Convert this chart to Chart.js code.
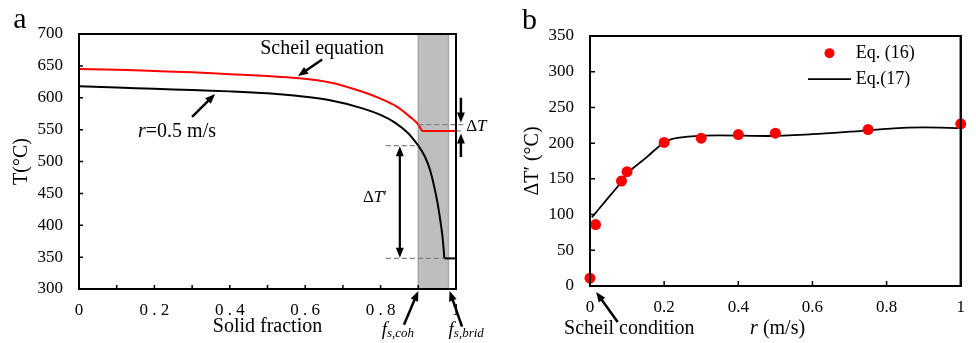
<!DOCTYPE html>
<html lang="en">
<head>
<meta charset="UTF-8">
<title>Solid fraction and undercooling</title>
<script src="https://cdn.jsdelivr.net/npm/chart.js"></script>
<style>
  html, body { margin: 0; padding: 0; background: #fff; }
  #wrap { position: relative; width: 976px; height: 343px; }
  #chartA { position: absolute; left: 0; top: 0; }
  #chartB { position: absolute; left: 490px; top: 0; }
</style>
</head>
<body>
<div id="wrap">
  <canvas id="chartA" width="490" height="343"></canvas>
  <canvas id="chartB" width="486" height="343"></canvas>
</div>
<script>
// panel a : T vs solid fraction
const scheilFs = [0, 0.1, 0.2, 0.3, 0.4, 0.5, 0.577, 0.666, 0.754, 0.798, 0.843, 0.878, 0.9, 0.91];
const scheilT  = [645, 644, 642, 640, 637, 634, 631, 624, 609, 599, 586, 570, 558, 548];
const scheilFlatFs = [0.91, 1.0];
const scheilFlatT  = [548, 548];
const rateFs = [0, 0.1, 0.2, 0.3, 0.4, 0.5, 0.577, 0.666, 0.754, 0.8, 0.838, 0.874, 0.892, 0.9, 0.918, 0.931, 0.942, 0.951, 0.958, 0.964, 0.967, 0.969];
const rateT  = [618, 616, 614, 612, 610, 607, 603, 596, 583, 573, 561, 544, 531, 525, 507, 487, 461, 435, 409, 383, 364, 348];
const rateFlatFs = [0.969, 1.0];
const rateFlatT  = [348, 348];
const fsCoh = 0.9, fsBrid = 0.98;
const xTicksA = [0, 0.1, 0.2, 0.3, 0.4, 0.5, 0.6, 0.7, 0.8, 0.9, 1];
const xTickLabelsA = ['0', '', '0 . 2', '', '0 . 4', '', '0 . 6', '', '0 . 8', '', '1'];
const yTicksA = [300, 350, 400, 450, 500, 550, 600, 650, 700];

// panel b : dT' vs r
const eq16R  = [0, 0.015, 0.085, 0.1, 0.2, 0.3, 0.4, 0.5, 0.75, 1.0];
const eq16dT = [11, 86, 147, 160, 201, 207, 212, 214, 219, 227];
const eq17R  = [0.005, 0.05, 0.085, 0.1, 0.133, 0.15, 0.2, 0.22, 0.264, 0.35, 0.48, 0.6, 0.7, 0.8, 0.9, 1.0];
const eq17dT = [96, 124, 146, 157, 172, 179, 201, 205.5, 209, 211, 210, 212.5, 216, 220, 222, 221];
const xTicksB = [0, 0.2, 0.4, 0.6, 0.8, 1];
const xTickLabelsB = ['0', '0.2', '0.4', '0.6', '0.8', '1'];
const yTicksB = [0, 50, 100, 150, 200, 250, 300, 350];

const SERIF = "'Liberation Serif', 'Times New Roman', serif";
Chart.defaults.font.family = SERIF;
Chart.defaults.color = '#000';

const toXY = (xs, ys) => xs.map((x, i) => ({ x: x, y: ys[i] }));
const P = (chart, xv, yv) => [chart.scales.x.getPixelForValue(xv), chart.scales.y.getPixelForValue(yv)];

function head(ctx, a, b, len, half) {
  const ang = Math.atan2(b[1] - a[1], b[0] - a[0]);
  const c = Math.cos(ang), s = Math.sin(ang);
  ctx.beginPath();
  ctx.moveTo(b[0], b[1]);
  ctx.lineTo(b[0] - len * c + half * s, b[1] - len * s - half * c);
  ctx.lineTo(b[0] - len * c - half * s, b[1] - len * s + half * c);
  ctx.closePath();
  ctx.fill();
}

// a, b in pixels; arrow head at b (and at a if both)
function arrow(ctx, a, b, both, lw) {
  const len = 10, half = 4;
  const ang = Math.atan2(b[1] - a[1], b[0] - a[0]);
  const c = Math.cos(ang), s = Math.sin(ang);
  ctx.save();
  ctx.strokeStyle = '#000';
  ctx.fillStyle = '#000';
  ctx.lineWidth = lw || 2.5;
  ctx.beginPath();
  const sa = both ? [a[0] + (len - 2) * c, a[1] + (len - 2) * s] : a;
  ctx.moveTo(sa[0], sa[1]);
  ctx.lineTo(b[0] - (len - 2) * c, b[1] - (len - 2) * s);
  ctx.stroke();
  head(ctx, a, b, len, half);
  if (both) head(ctx, b, a, len, half);
  ctx.restore();
}

function dashed(chart, a, b) {
  const ctx = chart.ctx;
  const p = P(chart, a[0], a[1]), q = P(chart, b[0], b[1]);
  ctx.save();
  ctx.strokeStyle = '#808080';
  ctx.lineWidth = 1.2;
  ctx.setLineDash([5, 3]);
  ctx.beginPath();
  ctx.moveTo(p[0], p[1]);
  ctx.lineTo(q[0], q[1]);
  ctx.stroke();
  ctx.restore();
}

// parts: [text, font, dy]
function rich(ctx, parts, x, y, align) {
  ctx.save();
  ctx.textBaseline = 'middle';
  ctx.fillStyle = '#000';
  let w = 0;
  parts.forEach(p => { ctx.font = p[1]; w += ctx.measureText(p[0]).width; });
  let cx = align === 'center' ? x - w / 2 : (align === 'right' ? x - w : x);
  parts.forEach(p => {
    ctx.font = p[1];
    ctx.textAlign = 'left';
    ctx.fillText(p[0], cx, y + (p[2] || 0));
    cx += ctx.measureText(p[0]).width;
  });
  ctx.restore();
}

function frameAndTicks(chart, xt, yt, tl) {
  const { ctx, chartArea: ca } = chart;
  ctx.save();
  ctx.strokeStyle = '#000';
  ctx.lineWidth = 1.5;
  ctx.beginPath();
  xt.forEach(v => {
    const x = chart.scales.x.getPixelForValue(v);
    ctx.moveTo(x, ca.bottom);
    ctx.lineTo(x, ca.bottom - tl);
  });
  yt.forEach(v => {
    const y = chart.scales.y.getPixelForValue(v);
    ctx.moveTo(ca.left, y);
    ctx.lineTo(ca.left + tl, y);
  });
  ctx.stroke();
  ctx.lineWidth = 2;
  ctx.strokeRect(ca.left, ca.top, ca.right - ca.left, ca.bottom - ca.top);
  ctx.restore();
}

const panelA = {
  id: 'panelA',
  beforeDatasetsDraw(chart) {
    const { ctx, chartArea: ca } = chart;
    const x0 = chart.scales.x.getPixelForValue(fsCoh);
    const x1 = chart.scales.x.getPixelForValue(fsBrid);
    ctx.save();
    ctx.fillStyle = '#bebebe';
    ctx.fillRect(x0, ca.top, x1 - x0, ca.bottom - ca.top);
    ctx.strokeStyle = '#a8a8a8';
    ctx.lineWidth = 1.5;
    [x0, x1].forEach(x => {
      ctx.beginPath(); ctx.moveTo(x, ca.top); ctx.lineTo(x, ca.bottom); ctx.stroke();
    });
    ctx.restore();
  },
  afterDatasetsDraw(chart) {
    const ctx = chart.ctx;
    const tCohScheil = scheilT[scheilFs.indexOf(fsCoh)];
    const tEut = scheilFlatT[0];
    const tCohRate = rateT[rateFs.indexOf(fsCoh)];
    const tEnd = rateFlatT[0];

    dashed(chart, [fsCoh, tCohScheil], [1.02, tCohScheil]);
    dashed(chart, [1.0, tEut], [1.02, tEut]);
    dashed(chart, [0.814, tCohRate], [fsCoh, tCohRate]);
    dashed(chart, [0.814, tEnd], [rateFlatFs[0], tEnd]);

    frameAndTicks(chart, xTicksA, yTicksA, 4);

    // delta T arrows
    const xa = 1.013;
    arrow(ctx, P(chart, xa, 600), P(chart, xa, tCohScheil + 3), false, 2.5);
    arrow(ctx, P(chart, xa, 507), P(chart, xa, tEut - 4), false, 2.5);
    // delta T' double arrow
    arrow(ctx, P(chart, 0.851, tCohRate - 1), P(chart, 0.851, tEnd + 1), true, 2.2);

    // label arrows
    arrow(ctx, P(chart, 0.645, 660), P(chart, 0.581, 634), false, 2.5);
    arrow(ctx, P(chart, 0.30, 570), P(chart, 0.361, 606), false, 2.5);
    arrow(ctx, P(chart, 0.862, 244), P(chart, fsCoh, 297), false, 2.5);
    arrow(ctx, P(chart, 1.016, 241), P(chart, fsBrid + 0.003, 297), false, 2.5);

    const F20 = '20px ' + SERIF, I20 = 'italic 20px ' + SERIF;
    const F17 = '17px ' + SERIF, I17 = 'italic 17px ' + SERIF;
    const I18 = 'italic 19px ' + SERIF, I13 = 'italic 13px ' + SERIF;
    let p = P(chart, 0.645, 677.6);
    rich(ctx, [['Scheil equation', F20]], p[0], p[1], 'center');
    p = P(chart, 0.26, 546);
    rich(ctx, [['r', I20], ['=0.5 m/s', F20]], p[0], p[1], 'center');
    p = P(chart, 1.027, 555.6);
    rich(ctx, [['\u0394', F17], ['T', I17]], p[0], p[1], 'left');
    p = P(chart, 0.785, 444);
    rich(ctx, [['\u0394', F17], ['T', I17], ['\u2032', F17]], p[0], p[1], 'center');
    p = P(chart, 0.846, 236);
    rich(ctx, [['f', I18], ['s,coh', I13, 4]], p[0], p[1], 'center');
    p = P(chart, 1.027, 236);
    rich(ctx, [['f', I18], ['s,brid', I13, 4]], p[0], p[1], 'center');

    ctx.save();
    ctx.font = '30px ' + SERIF;
    ctx.fillStyle = '#000';
    ctx.textAlign = 'center';
    ctx.textBaseline = 'alphabetic';
    ctx.fillText('a', 20, 28);
    ctx.restore();
  }
};

const panelB = {
  id: 'panelB',
  beforeDatasetsDraw(chart) {
    frameAndTicks(chart, xTicksB, yTicksB, 5);
  },
  afterDatasetsDraw(chart) {
    const ctx = chart.ctx;
    const { chartArea: ca } = chart;
    ctx.save();
    ctx.lineWidth = 2;
    ctx.strokeStyle = '#000';
    ctx.strokeRect(ca.left, ca.top, ca.right - ca.left, ca.bottom - ca.top);
    ctx.restore();

    // legend
    const ds0 = chart.data.datasets[0], ds1 = chart.data.datasets[1];
    let p = P(chart, 0.646, 326);
    ctx.save();
    ctx.fillStyle = ds0.backgroundColor;
    ctx.beginPath();
    ctx.arc(p[0], p[1], 5, 0, Math.PI * 2);
    ctx.fill();
    ctx.restore();
    const F18 = '18px ' + SERIF, F20 = '20px ' + SERIF, I20 = 'italic 20px ' + SERIF;
    p = P(chart, 0.717, 326);
    rich(ctx, [[ds0.label, F18]], p[0], p[1], 'left');
    const a = P(chart, 0.588, 289.7), b = P(chart, 0.704, 289.7);
    ctx.save();
    ctx.strokeStyle = ds1.borderColor;
    ctx.lineWidth = ds1.borderWidth;
    ctx.beginPath(); ctx.moveTo(a[0], a[1]); ctx.lineTo(b[0], b[1]); ctx.stroke();
    ctx.restore();
    p = P(chart, 0.717, 289.7);
    rich(ctx, [[ds1.label, F18]], p[0], p[1], 'left');

    // axis title and annotation
    p = P(chart, 0.506, -59.3);
    rich(ctx, [['r', I20], [' (m/s)', F20]], p[0], p[1], 'center');
    p = P(chart, 0.106, -59.3);
    rich(ctx, [['Scheil condition', F20]], p[0], p[1], 'center');
    arrow(ctx, P(chart, 0.0746, -50.5), P(chart, 0.0166, -8.4), false, 2.5);

    ctx.save();
    ctx.font = '30px ' + SERIF;
    ctx.fillStyle = '#000';
    ctx.textAlign = 'center';
    ctx.textBaseline = 'alphabetic';
    ctx.fillText('b', 39.5, 29);
    ctx.restore();
  }
};

new Chart(document.getElementById('chartA'), {
  type: 'scatter',
  data: {
    datasets: [
      { label: 'Scheil equation', data: toXY(scheilFs, scheilT), showLine: true,
        borderColor: '#ff0000', borderWidth: 2, pointRadius: 0, cubicInterpolationMode: 'monotone' },
      { label: 'Scheil eutectic', data: toXY(scheilFlatFs, scheilFlatT), showLine: true,
        borderColor: '#ff0000', borderWidth: 2, pointRadius: 0 },
      { label: 'r=0.5 m/s', data: toXY(rateFs, rateT), showLine: true,
        borderColor: '#000', borderWidth: 2, pointRadius: 0, cubicInterpolationMode: 'monotone' },
      { label: 'r=0.5 m/s end', data: toXY(rateFlatFs, rateFlatT), showLine: true,
        borderColor: '#000', borderWidth: 2, pointRadius: 0 }
    ]
  },
  options: {
    responsive: false,
    animation: false,
    layout: { padding: { left: 0, top: 34, right: 34, bottom: 0 } },
    plugins: { legend: { display: false }, tooltip: { enabled: false } },
    scales: {
      x: {
        type: 'linear', min: 0, max: 1,
        afterFit: s => { s.height = 54; },
        afterBuildTicks: s => { s.ticks = xTicksA.map(v => ({ value: v })); },
        grid: { display: false, drawTicks: false },
        border: { display: false },
        ticks: { autoSkip: false, maxRotation: 0, padding: 11, font: { size: 17 }, color: '#000',
                 callback: (v, i) => xTickLabelsA[i] },
        title: { display: true, text: 'Solid fraction', font: { size: 20 }, color: '#000',
                 padding: { top: 0, bottom: 4 } }
      },
      y: {
        type: 'linear', min: 300, max: 700,
        afterFit: s => { s.width = 79; },
        afterBuildTicks: s => { s.ticks = yTicksA.map(v => ({ value: v })); },
        grid: { display: false, drawTicks: false },
        border: { display: false },
        ticks: { padding: 16, font: { size: 17 }, color: '#000' },
        title: { display: true, text: 'T(°C)', font: { size: 20 }, color: '#000',
                 padding: { top: 10, bottom: 0 } }
      }
    }
  },
  plugins: [panelA]
});

new Chart(document.getElementById('chartB'), {
  type: 'scatter',
  data: {
    datasets: [
      { label: 'Eq. (16)', data: toXY(eq16R, eq16dT), backgroundColor: '#ff0000',
        borderWidth: 0, pointRadius: 5.5, clip: false },
      { label: 'Eq.(17)', data: toXY(eq17R, eq17dT), showLine: true, borderColor: '#000',
        borderWidth: 1.8, pointRadius: 0, cubicInterpolationMode: 'monotone' }
    ]
  },
  options: {
    responsive: false,
    animation: false,
    layout: { padding: { left: 0, top: 36, right: 7, bottom: 0 } },
    plugins: { legend: { display: false }, tooltip: { enabled: false } },
    scales: {
      x: {
        type: 'linear', min: 0, max: 1,
        afterFit: s => { s.height = 57; },
        afterBuildTicks: s => { s.ticks = xTicksB.map(v => ({ value: v })); },
        grid: { display: false, drawTicks: false },
        border: { display: false },
        ticks: { autoSkip: false, maxRotation: 0, padding: 11, font: { size: 17 }, color: '#000',
                 callback: (v, i) => xTickLabelsB[i] }
      },
      y: {
        type: 'linear', min: 0, max: 350,
        afterFit: s => { s.width = 100; },
        afterBuildTicks: s => { s.ticks = yTicksB.map(v => ({ value: v })); },
        grid: { display: false, drawTicks: false },
        border: { display: false },
        ticks: { padding: 16, font: { size: 17 }, color: '#000' },
        title: { display: true, text: '\u0394T\u2032 (°C)', font: { size: 20 }, color: '#000',
                 padding: { top: 31, bottom: 0 } }
      }
    }
  },
  plugins: [panelB]
});
</script>
</body>
</html>
